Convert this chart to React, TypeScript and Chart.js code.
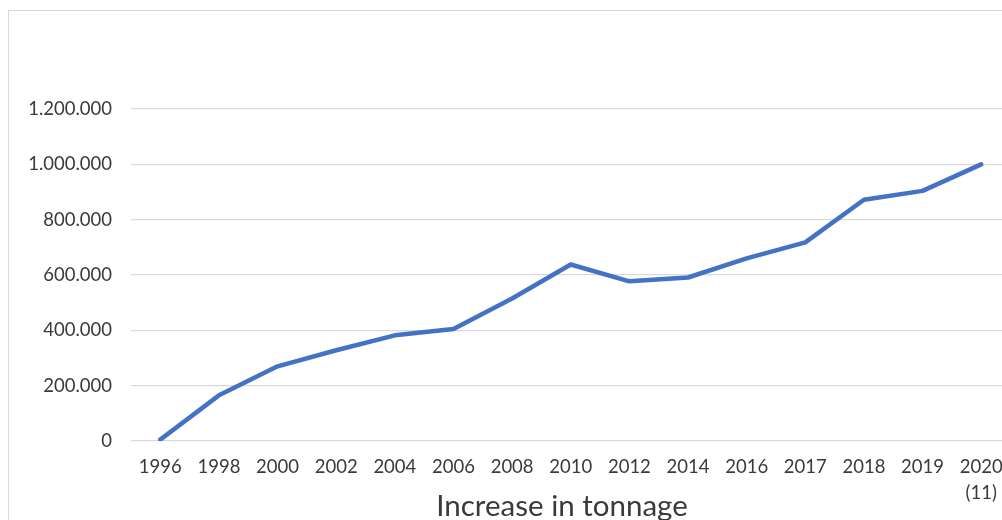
import React, { useEffect, useRef } from "react";
import { Chart, registerables } from "chart.js";

Chart.register(...registerables);

const years: (string | string[])[] = [
  "1996", "1998", "2000", "2002", "2004", "2006", "2008", "2010",
  "2012", "2014", "2016", "2017", "2018", "2019", ["2020", "(11)"],
];
const tonnage: number[] = [
  5000, 165000, 270000, 328000, 382000, 405000, 515000, 638000,
  577000, 591000, 660000, 718000, 872000, 904000, 1000000,
];
const yTicks: number[] = [0, 200000, 400000, 600000, 800000, 1000000, 1200000];
const axisTitle = "Increase in tonnage";

const fmt = (v: number) => String(Math.round(v)).replace(/\B(?=(\d{3})+(?!\d))/g, ".");

const bottomTitle = {
  id: "bottomTitle",
  afterDraw(chart: any) {
    const ctx = chart.ctx;
    ctx.save();
    ctx.font = "29.5px Lato";
    ctx.fillStyle = "#3a3a3a";
    ctx.textAlign = "center";
    ctx.textBaseline = "middle";
    ctx.fillText(axisTitle, 553, 495);
    ctx.restore();
  },
};

export default function App() {
  const ref = useRef<HTMLCanvasElement>(null);
  useEffect(() => {
    if (!ref.current) return;
    const chart = new Chart(ref.current, {
      type: "line",
      data: {
        labels: years,
        datasets: [
          {
            data: tonnage,
            borderColor: "#4472C4",
            backgroundColor: "#4472C4",
            borderWidth: 4.5,
            pointRadius: 0,
            borderCapStyle: "round",
            borderJoinStyle: "round",
            tension: 0,
          },
        ],
      },
      plugins: [bottomTitle],
      options: {
        animation: false,
        responsive: false,
        maintainAspectRatio: false,
        layout: { padding: { top: 98, left: 0, right: 8.5, bottom: 0 } },
        plugins: { legend: { display: false }, tooltip: { enabled: false } },
        scales: {
          x: {
            type: "category",
            offset: true,
            grid: { display: false, drawTicks: false },
            border: { display: false },
            ticks: {
              color: "#3a3a3a",
              padding: 13,
              maxRotation: 0,
              autoSkip: false,
              font: { family: "Lato", size: 18.5, lineHeight: 26 / 18.5 },
            },
            afterFit: (s: any) => {
              s.height = 90;
            },
          },
          y: {
            min: 0,
            max: 1200000,
            afterBuildTicks: (s: any) => {
              s.ticks = yTicks.map((v) => ({ value: v }));
            },
            grid: { color: "#d9d9d9", lineWidth: 1.3, drawTicks: false },
            border: { display: false },
            ticks: {
              color: "#3a3a3a",
              padding: 19,
              font: { family: "Lato", size: 18.5 },
              callback: (v: any) => fmt(Number(v)),
            },
            afterFit: (s: any) => {
              s.width = 122;
            },
          },
        },
      },
    });
    return () => chart.destroy();
  }, []);

  return (
    <div
      style={{
        position: "absolute",
        left: 8,
        top: 10,
        width: 994,
        height: 510,
        overflow: "hidden",
        background: "#fff",
      }}
    >
      <div
        style={{
          width: 1030,
          height: 540,
          border: "1.5px solid #d9d9d9",
          boxSizing: "border-box",
          position: "relative",
        }}
      >
        <canvas
          ref={ref}
          width={1010}
          height={520}
          style={{ position: "absolute", left: 0, top: 0, width: 1010, height: 520 }}
        />
      </div>
    </div>
  );
}
